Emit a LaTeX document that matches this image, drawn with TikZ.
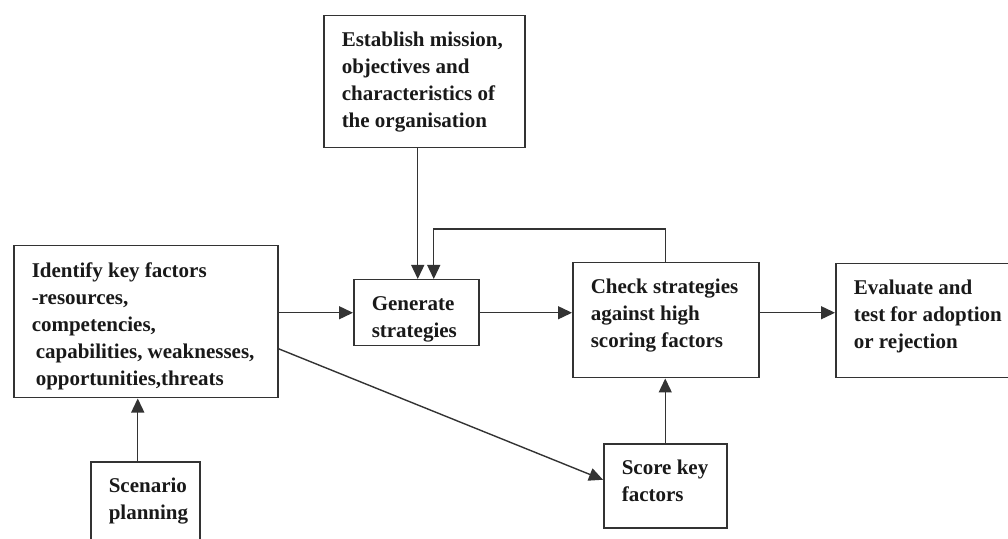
\documentclass[tikz,border=0pt]{standalone}
\usepackage{fontspec}
\setmainfont{Liberation Serif}
\usetikzlibrary{
  calc, % For coordinate calculations
  arrows.meta % For arrow tips
}

% Text im Kasten: links eingerueckt, oben ausgerichtet
\newcommand{\boxtext}[3]{\parbox[c][#2][t]{#1}{\vspace*{16.5pt}\raggedright\leftskip=18pt #3}}

\begin{document}
\begin{tikzpicture}[
      x=1pt, y=1pt,
      >={Triangle[length=14pt, width=13pt]}, % Default arrow tip
      box/.style={draw=black!80, line width=1.5pt, inner sep=0pt, anchor=north west,
        font=\bfseries\fontsize{21}{27}\selectfont, text=black!90}, % Style for boxes
      arr/.style={draw=black!80, line width=1.4pt, ->}, % Style for arrows
    ]

    % Rahmen
    \useasboundingbox (0,0) rectangle (1008,538);
    \clip (0,0) rectangle (1008,538);

    % Kaesten
    \node[box] (ident) at (13,293) {\boxtext{264pt}{152pt}{Identify key factors\\
      -resources,\\ competencies,\\ \hspace*{4pt}capabilities, weaknesses,\\
      \hspace*{4pt}opportunities,threats}};
    \node[box] (scen) at (90,77) {\boxtext{109pt}{100pt}{Scenario\\ planning}};
    \node[box] (estab) at (323,523) {\boxtext{201pt}{132pt}{Establish mission,\\
      objectives and\\ characteristics of\\ the organisation}};
    \node[box] (gen) at (353,259) {\boxtext{125pt}{66pt}{Generate\\ strategies}};
    \node[box] (chk) at (572,276) {\boxtext{186pt}{115pt}{Check strategies\\
      against high\\ scoring factors}};
    \node[box] (evalb) at (835,275) {\boxtext{200pt}{114pt}{Evaluate and\\
      test for adoption\\ or rejection}};
    \node[box] (score) at (603,95) {\boxtext{123pt}{84pt}{Score key\\ factors}};

    % Pfeile
    \draw[arr] ([xshift=-7.5pt]scen.north) -- ([xshift=-7.5pt]scen.north |- ident.south);
    \draw[arr] ([xshift=1.5pt]gen.north |- estab.south) -- ([xshift=1.5pt]gen.north);
    \draw[arr] (chk.north) -- ++(0,33) -| ([xshift=17.5pt]gen.north);
    \draw[arr] (gen.west -| ident.east) -- (gen.west);
    \draw[arr] (gen.east) -- (gen.east -| chk.west);
    \draw[arr] (gen.east -| chk.east) -- (gen.east -| evalb.west);
    \draw[arr] (score.north) -- (score.north |- chk.south);
    \draw[arr] ([yshift=-27pt]ident.east) -- ([yshift=6pt]score.west);

  \end{tikzpicture}
\end{document}
